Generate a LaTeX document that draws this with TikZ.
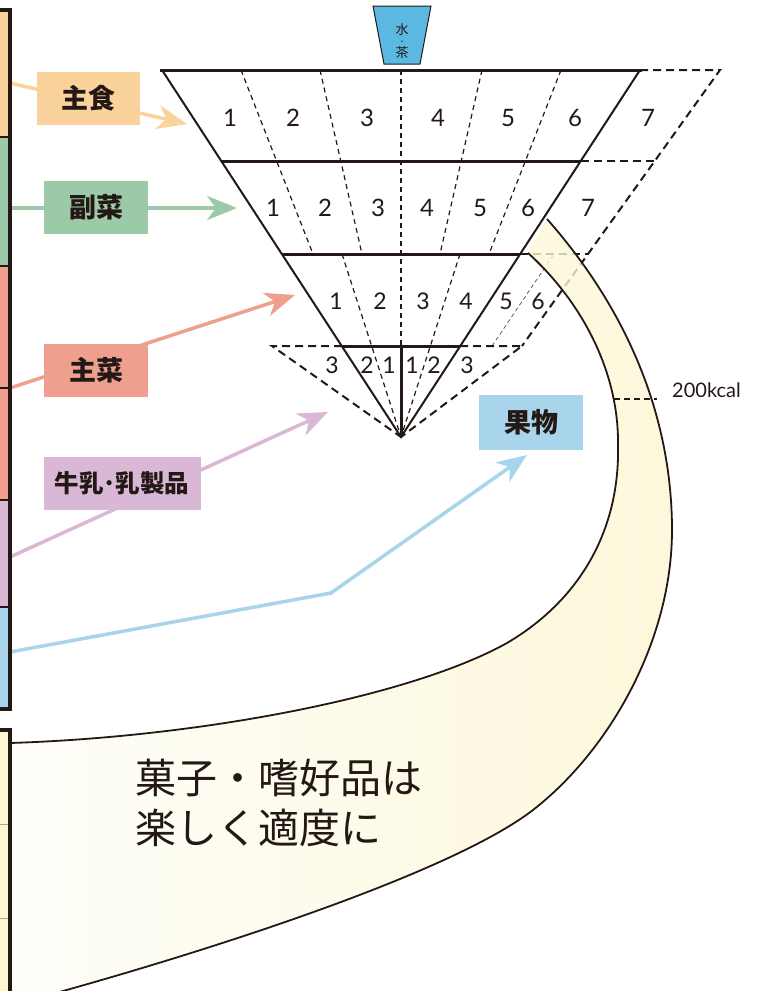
\documentclass[tikz,border=0pt]{standalone}
\usepackage{fontspec}
\setmainfont{Lato}
\newfontfamily\jp{Noto Sans CJK JP}
\usetikzlibrary{arrows.meta,positioning,calc}
\definecolor{ink}{HTML}{231815}
\definecolor{shushoku}{HTML}{F9D39B}
\definecolor{fukusai}{HTML}{9CC9A7}
\definecolor{shusai}{HTML}{EE9F8E}
\definecolor{nyu}{HTML}{D9B8D6}
\definecolor{kudamono}{HTML}{A8D5EB}
\definecolor{mizu}{HTML}{5BB8E1}
\definecolor{kashi}{HTML}{FCF6D2}
\setlength{\lineskiplimit}{-20pt}

\begin{document}
\begin{tikzpicture}[x=1pt,y=-1pt,
  rim/.style={draw=ink,line width=2pt},
  rowline/.style={draw=ink,line width=3pt},
  divider/.style={draw=ink,line width=1.2pt,dash pattern=on 5pt off 4pt},
  outerdash/.style={draw=ink,line width=2pt,dash pattern=on 8pt off 5pt},
  bandline/.style={draw=ink,line width=1.8pt},
  num/.style={inner sep=0pt,text=ink,font=\fontsize{24}{24}\selectfont},
  lbl/.style={inner sep=0pt,minimum height=53pt,text=ink,font=\jp\bfseries\fontsize{27}{27}\selectfont},
  pointer/.style={line width=3.5pt,-{Stealth[length=30pt,width=24pt,inset=9pt]}}]
\useasboundingbox (0,0) rectangle (758,991);

% arrows from the side bar
\coordinate (s1) at (10,83);  \coordinate (t1) at (187,124);
\coordinate (s2) at (10,208); \coordinate (t2) at (237,208);
\coordinate (s3) at (10,388); \coordinate (t3) at (295,295);
\coordinate (s4) at (10,557); \coordinate (t4) at (328,412);
\coordinate (s5) at (10,652); \coordinate (k5) at (331,593); \coordinate (t5) at (527,455);
\draw[pointer,shushoku] (s1) -- (t1);
\draw[pointer,fukusai] (s2) -- (t2);
\draw[pointer,shusai] (s3) -- (t3);
\draw[pointer,nyu] (s4) -- (t4);
\draw[pointer,kudamono] (s5) -- (k5) -- (t5);

% labels
\node[lbl,fill=shushoku,minimum width=103pt] (shushoku) at (88.5,98) {主食};
\node[lbl,fill=fukusai,minimum width=104pt] (fukusai) at (96,207.5) {副菜};
\node[lbl,fill=shusai,minimum width=104pt] (shusai) at (96,370) {主菜};
\node[lbl,fill=nyu,minimum width=157pt,font=\jp\bfseries\fontsize{24.5}{24.5}\selectfont] (nyu) at (122,483.5) {牛乳･乳製品};
\node[lbl,fill=kudamono,minimum width=104pt,minimum height=55pt] (kudamono) at (531,422.5) {果物};

% pyramid
\coordinate (apex) at (401,437);
\foreach \a/\b in {241/313,320/362,482/440,561/489}
  \draw[divider] (\a,70) -- (\b,254);
\draw[divider] (401,70) -- (401,346);
\foreach \b in {342,460}
  \draw[divider] (\b,254) -- (apex);
\draw[ink!70,line width=.8pt,dash pattern=on 4pt off 3pt] (492,346) -- (554,254);
\draw[outerdash] (640,70) -- (720,70) -- (522,346);
\draw[outerdash] (581,161) -- (655,161);
\draw[outerdash] (520,254) -- (588,254);
\draw[outerdash] (460,346) -- (522,346) -- (apex);
\draw[outerdash] (342,346) -- (272,346) -- (apex);
\draw[rim] (162,70) -- (apex) -- (640,70);
\draw[rowline] (160,70) -- (642,70);
\draw[rowline] (221,161) -- (581,161);
\draw[rowline] (282,254) -- (520,254);
\draw[rowline] (342,346) -- (460,346);
\draw[rowline] (401,346) -- (apex);

% numbers
\foreach \x [count=\i] in {230,293,367,438,508,575,648}
  \node[num] (a\i) at (\x,118) {\i};
\foreach \x [count=\i] in {273,325,378,427,480,528,588}
  \node[num] (b\i) at (\x,208) {\i};
\foreach \x [count=\i] in {336,380,423,466,506,538}
  \node[num,font=\fontsize{23}{23}\selectfont] (c\i) at (\x,301) {\i};
\foreach \x/\t [count=\i] in {332/3,367/2,389/1,412/1,434/2,467/3}
  \node[num,font=\fontsize{23}{23}\selectfont] (d\i) at (\x,365) {\t};

% cup
\filldraw[fill=mizu,draw=ink,line width=1pt] (373,6) -- (431,6) -- (420,64) -- (384,64) -- cycle;
\node[inner sep=0pt,align=center,text=ink,font=\jp\fontsize{13}{11.5}\selectfont] (mizu) at (402,41)
  {水\\[-1pt]{\fontsize{7}{7}\selectfont ・}\\[1pt]茶};

% sweets band
\shade[left color=kashi!15!white,right color=kashi,fill opacity=.8]
  (547,219) .. controls (637,321) and (672,430) .. (672,530)
  .. controls (672,640) and (610,750) .. (533,810)
  .. controls (455,870) and (234,943) .. (63,991) -- (20,1003)
  -- (0,1003) -- (0,743) -- (10,743)
  .. controls (200,737) and (410,697) .. (507,643)
  .. controls (580,600) and (620,530) .. (618,445)
  .. controls (619,370) and (580,300) .. (528,253) -- cycle;
\draw[bandline] (547,219) .. controls (637,321) and (672,430) .. (672,530)
  .. controls (672,640) and (610,750) .. (533,810)
  .. controls (455,870) and (234,943) .. (63,991) -- (20,1003);
\draw[bandline] (10,743) .. controls (200,737) and (410,697) .. (507,643)
  .. controls (580,600) and (620,530) .. (618,445)
  .. controls (619,370) and (580,300) .. (528,253);
\coordinate (k1) at (614,399); \coordinate (k2) at (657,399);
\draw[ink,line width=1.5pt,dash pattern=on 6pt off 4pt] (k1) -- (k2);
\node[anchor=west,inner sep=0pt,text=ink,font=\fontsize{20}{20}\selectfont] (kcal) at (672,390) {200kcal};
\node[anchor=north west,inner sep=0pt,align=left,text=ink,font=\jp\fontsize{41}{50}\selectfont] (kashi) at (135,759) {菓子・嗜好品は\\楽しく適度に};

% side bar
\fill[shushoku] (-5,10) rectangle (10,137);
\fill[fukusai] (-5,137) rectangle (10,266);
\fill[shusai] (-5,266) rectangle (10,500);
\fill[nyu] (-5,500) rectangle (10,607);
\fill[kudamono] (-5,607) rectangle (10,709);
\foreach \y in {137,266,388,500,607}
  \draw[ink,line width=2.5pt] (-5,\y) -- (10,\y);
\draw[ink,line width=3.5pt] (-5,10) -- (10,10) -- (10,709) -- (-5,709);
\fill[kashi] (-5,730) rectangle (10,1003);
\foreach \y in {824,918}
  \draw[ink!40,line width=.8pt] (-5,\y) -- (10,\y);
\draw[ink,line width=3.5pt] (-5,730) -- (10,730) -- (10,1003);
\end{tikzpicture}
\end{document}
